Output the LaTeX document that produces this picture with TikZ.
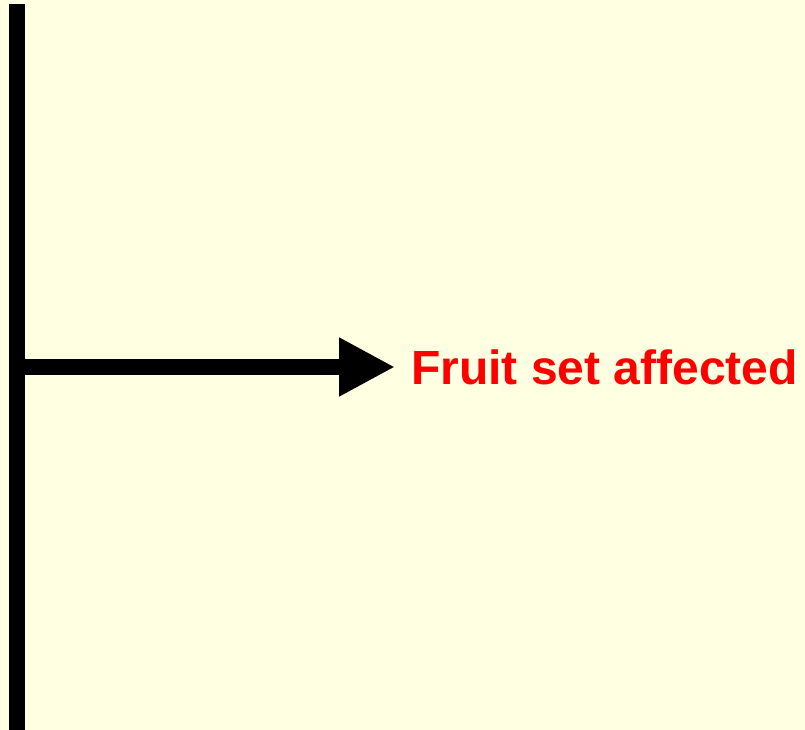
\documentclass[tikz,border=0pt]{standalone}
\usepackage{fontspec}
\setmainfont{Liberation Sans}
\usetikzlibrary{arrows.meta}
\definecolor{paper}{RGB}{255,255,226}
\definecolor{labelred}{RGB}{255,0,0}
\begin{document}
\begin{tikzpicture}[x=1pt,y=-1pt,
  bar/.style={line width=16pt, draw=black},
  outcome/.style={font=\fontsize{48}{56}\selectfont\bfseries, text=labelred,
                  inner xsep=16pt, inner ysep=0pt, anchor=base west}]
  % page
  \fill[paper] (0,0) rectangle (805,730);
  \useasboundingbox (0,0) rectangle (805,730);
  % main stem
  \coordinate (top) at (17,4);
  \coordinate (bottom) at (17,730);
  \coordinate (branch) at (17,367);
  \draw[bar] (top) -- (bottom);
  % outcome label and its arrow
  \node[outcome] (fruit) at (395,384) {Fruit set affected};
  \draw[bar, -{Triangle[length=56pt,width=55pt]}] (branch) -- (fruit.west |- branch);
\end{tikzpicture}
\end{document}
